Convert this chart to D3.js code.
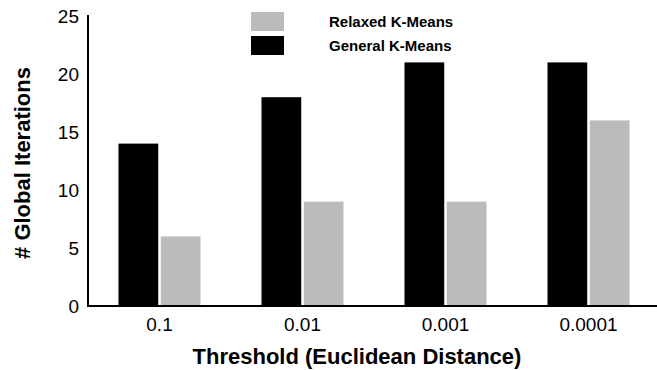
<!DOCTYPE html>
<html>
<head>
<meta charset="utf-8">
<script src="https://cdn.jsdelivr.net/npm/d3@7"></script>
<style>
  body { margin: 0; background: #fff; }
  svg { display: block; font-family: 'Liberation Sans', Arial, Helvetica, sans-serif; }
</style>
</head>
<body>
<div class="display"></div>
<script>
const WIDTH = 657;
const HEIGHT = 370;

const THRESHOLDS = ['0.1', '0.01', '0.001', '0.0001'];
const GENERAL = [14, 18, 21, 21];
const RELAXED = [6, 9, 9, 16];
const Y_TICKS = [0, 5, 10, 15, 20, 25];

const SERIES = [
  { name: 'General K-Means', values: GENERAL, color: '#000000' },
  { name: 'Relaxed K-Means', values: RELAXED, color: '#bbbbbb' }
];

const svg = d3.select('.display')
  .append('svg')
  .attr('width', WIDTH)
  .attr('height', HEIGHT);

const x = d3.scaleBand()
  .domain(THRESHOLDS)
  .range([88, 660]);

const xInner = d3.scaleBand()
  .domain(SERIES.map(s => s.name))
  .range([-41, 41])
  .paddingInner(0.06);

const y = d3.scaleLinear()
  .domain([0, 25])
  .range([306, 16]);

// bars
SERIES.forEach(s => {
  svg.append('g')
    .selectAll('rect')
    .data(THRESHOLDS)
    .enter()
    .append('rect')
    .attr('x', (d, i) => x(d) + x.bandwidth() / 2 + xInner(s.name))
    .attr('y', (d, i) => y(s.values[i]))
    .attr('width', xInner.bandwidth())
    .attr('height', (d, i) => y(0) - y(s.values[i]))
    .attr('fill', s.color);
});

// axes
const yAxis = svg.append('g')
  .attr('transform', 'translate(88, 0)')
  .call(d3.axisLeft(y).tickValues(Y_TICKS).tickSize(0).tickPadding(9));
yAxis.select('.domain').attr('stroke', '#000').attr('stroke-width', 2)
  .attr('d', `M0,${y(25) - 1}V${y(0) + 1}`);
yAxis.selectAll('text')
  .attr('font-family', 'Liberation Sans, Arial, sans-serif')
  .style('font-size', '19px').attr('fill', '#000');

const xAxis = svg.append('g')
  .attr('transform', `translate(0, ${y(0)})`)
  .call(d3.axisBottom(x).tickSize(0).tickPadding(0));
xAxis.select('.domain').attr('stroke', '#000').attr('stroke-width', 2)
  .attr('d', `M87,0H657`);
xAxis.selectAll('text')
  .attr('font-family', 'Liberation Sans, Arial, sans-serif')
  .attr('dy', null)
  .attr('y', 25)
  .style('font-size', '19px').attr('fill', '#000');

// axis titles
svg.append('text')
  .attr('x', 357)
  .attr('y', 364)
  .attr('text-anchor', 'middle')
  .style('font-size', '22px')
  .style('font-weight', 'bold')
  .text('Threshold (Euclidean Distance)');

svg.append('text')
  .attr('transform', 'translate(30, 163) rotate(-90)')
  .attr('text-anchor', 'middle')
  .style('font-size', '22px')
  .style('font-weight', 'bold')
  .text('# Global Iterations');

// legend
const legend = svg.append('g').attr('transform', 'translate(251, 12)');
const LEGEND_ORDER = [SERIES[1], SERIES[0]];
LEGEND_ORDER.forEach((s, i) => {
  legend.append('rect')
    .attr('x', 0)
    .attr('y', i * 24)
    .attr('width', 33)
    .attr('height', 19)
    .attr('fill', s.color);
  legend.append('text')
    .attr('x', 78)
    .attr('y', i * 24 + 15)
    .style('font-size', '15px')
    .style('font-weight', 'bold')
    .text(s.name);
});
</script>
</body>
</html>
